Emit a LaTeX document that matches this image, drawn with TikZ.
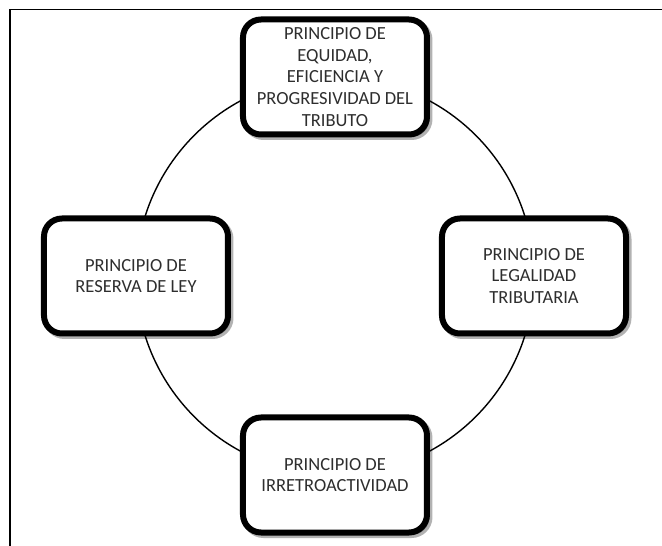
\documentclass[tikz,border=0pt]{standalone}
\usepackage{fontspec}
\setmainfont{Carlito}
\usetikzlibrary{shadows}
\definecolor{textgray}{HTML}{2E2E2E}
\tikzset{
  principio/.style={draw=black, line width=6pt, rounded corners=18pt, fill=white,
    minimum width=184pt, minimum height=115pt, align=center, text=textgray,
    font=\fontsize{18.5}{21.7}\selectfont, inner sep=1pt,
    drop shadow={shadow xshift=2.5pt, shadow yshift=-2.5pt, opacity=0.3,
      fill=black, draw=black, line width=6pt}},
}
\begin{document}
\begin{tikzpicture}[x=1pt, y=1pt]%
      \useasboundingbox (-335, 276) rectangle (327, -270);%
      \draw[line width=1.4pt] (327, 266.5) -- (-325, 266.5) -- (-325, -270);
      \coordinate (centro) at (0, 0);
      \draw[line width=1.4pt] (centro) circle (199);
      \foreach \ang/\nombre/\txt in {90/equidad/{PRINCIPIO DE\\EQUIDAD,\\EFICIENCIA Y\\PROGRESIVIDAD DEL\\TRIBUTO},
        0/legalidad/{PRINCIPIO DE\\LEGALIDAD\\TRIBUTARIA},
        270/irretro/{PRINCIPIO DE\\IRRETROACTIVIDAD},
        180/reserva/{PRINCIPIO DE\\RESERVA DE LEY}}{%
        \node[principio] (P-\nombre) at (\ang:199) {\txt};
      }
    \end{tikzpicture}
\end{document}
